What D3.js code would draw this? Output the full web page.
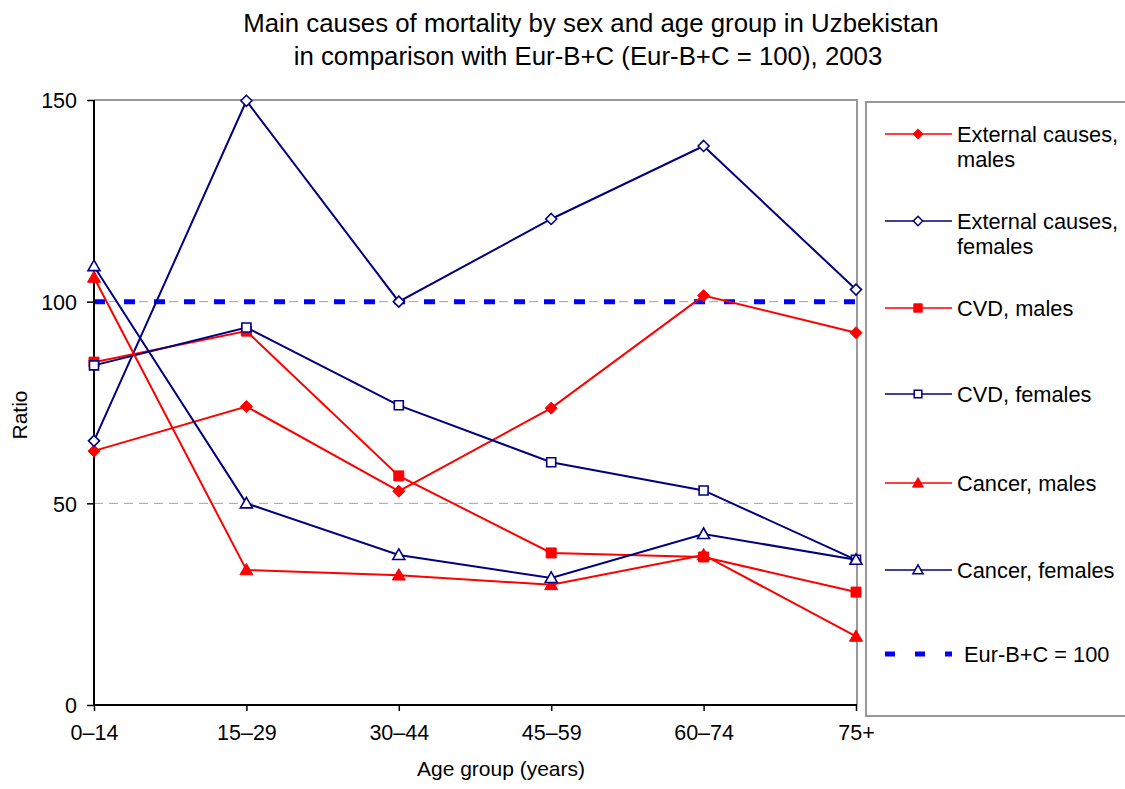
<!DOCTYPE html>
<html>
<head>
<meta charset="utf-8">
<script src="https://cdn.jsdelivr.net/npm/d3@7"></script>
<style>
  body { margin: 0; background: #fff; }
  svg { font-family: "Liberation Sans", Arial, sans-serif; }
</style>
</head>
<body>
<svg id="chart" width="1125" height="789"></svg>
<script>
// data
const ageGroups = ["0–14", "15–29", "30–44", "45–59", "60–74", "75+"];
const externalMales   = [63, 74, 53, 73.6, 101.5, 92.3];
const externalFemales = [65.5, 149.8, 100, 120.5, 138.6, 103];
const cvdMales        = [85, 92.7, 56.8, 37.7, 36.7, 28];
const cvdFemales      = [84.2, 93.6, 74.3, 60.2, 53.2, 36];
const cancerMales     = [106, 33.5, 32.2, 29.8, 37.2, 17];
const cancerFemales   = [108.8, 50, 37.2, 31.5, 42.4, 36];
const referenceValue  = 100;
const yTicks = [0, 50, 100, 150];

const series = [
  { name: ["External causes,", "males"],   values: externalMales,   color: "#ff0000", shape: "diamond",  filled: true },
  { name: ["External causes,", "females"], values: externalFemales, color: "#000080", shape: "diamond",  filled: false },
  { name: ["CVD, males"],                  values: cvdMales,        color: "#ff0000", shape: "square",   filled: true },
  { name: ["CVD, females"],                values: cvdFemales,      color: "#000080", shape: "square",   filled: false },
  { name: ["Cancer, males"],               values: cancerMales,     color: "#ff0000", shape: "triangle", filled: true },
  { name: ["Cancer, females"],             values: cancerFemales,   color: "#000080", shape: "triangle", filled: false }
];

const svg = d3.select("#chart");
const plot = { left: 94, right: 856, top: 100, bottom: 705 };

const x = d3.scalePoint().domain(ageGroups).range([plot.left, plot.right]).padding(0);
const y = d3.scaleLinear().domain([0, 150]).range([plot.bottom, plot.top]);

// marker paths centred on 0,0
function markerPath(shape, filled) {
  if (shape === "diamond") {
    const r = filled ? 6 : 5.5;
    return `M0,${-r}L${r},0L0,${r}L${-r},0Z`;
  }
  if (shape === "square") {
    const r = filled ? 5 : 4.5;
    return `M${-r},${-r}H${r}V${r}H${-r}Z`;
  }
  // triangle
  const r = filled ? 6.5 : 6;
  return `M0,${-r}L${r},${r * 0.75}L${-r},${r * 0.75}Z`;
}

// title
svg.append("text")
  .attr("x", 591).attr("y", 32)
  .attr("text-anchor", "middle")
  .style("font-size", "25.8px")
  .text("Main causes of mortality by sex and age group in Uzbekistan");
svg.append("text")
  .attr("x", 588).attr("y", 65)
  .attr("text-anchor", "middle")
  .style("font-size", "25.8px")
  .text("in comparison with Eur-B+C (Eur-B+C = 100), 2003");

// plot border (top and right)
svg.append("path")
  .attr("d", `M${plot.left},${plot.top}H${plot.right + 1}V${plot.bottom}`)
  .attr("fill", "none")
  .attr("stroke", "#999")
  .attr("stroke-width", 2);

// gridlines
svg.append("g").selectAll("line")
  .data([50, 100])
  .join("line")
  .attr("x1", plot.left).attr("x2", plot.right)
  .attr("y1", d => y(d)).attr("y2", d => y(d))
  .attr("stroke", "#a0a0a0")
  .attr("stroke-width", 1)
  .attr("stroke-dasharray", "9,6");

// reference line
svg.append("line")
  .attr("x1", plot.left).attr("x2", plot.right)
  .attr("y1", y(referenceValue)).attr("y2", y(referenceValue))
  .attr("stroke", "#0000ff")
  .attr("stroke-width", 5)
  .attr("stroke-dasharray", "11,19");

// axes
const yAxis = svg.append("g")
  .attr("transform", `translate(${plot.left},0)`)
  .call(d3.axisLeft(y).tickValues(yTicks).tickSize(7).tickPadding(10).tickFormat(d3.format("d")));
const xAxis = svg.append("g")
  .attr("transform", `translate(0,${plot.bottom})`)
  .call(d3.axisBottom(x).tickSize(6).tickPadding(14));

[yAxis, xAxis].forEach(a => {
  a.select(".domain").attr("stroke", "#000").attr("stroke-width", 2);
  a.selectAll(".tick line").attr("stroke", "#000").attr("stroke-width", 1.5);
  a.selectAll(".tick text").attr("fill", "#000")
    .attr("font-size", null).attr("font-family", null)
    .style("font-size", "21.5px")
    .style("font-family", "'Liberation Sans', Arial, sans-serif");
});
yAxis.attr("font-size", null).attr("font-family", null);
xAxis.attr("font-size", null).attr("font-family", null);
xAxis.select(".domain").attr("d", `M${plot.left},0H${plot.right + 1}`);
yAxis.select(".domain").attr("d", `M0,${plot.bottom}V${plot.top}`);
yAxis.selectAll(".tick text").attr("dy", "0.36em");
xAxis.selectAll(".tick text").attr("dy", "0.71em");

// axis titles
svg.append("text")
  .attr("x", 501).attr("y", 776)
  .attr("text-anchor", "middle")
  .style("font-size", "21px")
  .text("Age group (years)");
svg.append("text")
  .attr("transform", "translate(27,415) rotate(-90)")
  .attr("text-anchor", "middle")
  .style("font-size", "21px")
  .text("Ratio");

// series lines and markers
const line = d3.line().x((d, i) => x(ageGroups[i])).y(d => y(d));

const groups = svg.append("g").selectAll("g")
  .data(series)
  .join("g");

groups.append("path")
  .attr("d", d => line(d.values))
  .attr("fill", "none")
  .attr("stroke", d => d.color)
  .attr("stroke-width", 2);

groups.each(function (s) {
  d3.select(this).selectAll(".marker")
    .data(s.values)
    .join("path")
    .attr("class", "marker")
    .attr("transform", (d, i) => `translate(${x(ageGroups[i])},${y(d)})`)
    .attr("d", markerPath(s.shape, s.filled))
    .attr("fill", s.filled ? s.color : "#fff")
    .attr("stroke", s.color)
    .attr("stroke-width", s.filled ? 1 : 1.6);
});

// legend
const legend = svg.append("g");
legend.append("rect")
  .attr("x", 866).attr("y", 102)
  .attr("width", 280).attr("height", 614)
  .attr("fill", "#fff")
  .attr("stroke", "#999")
  .attr("stroke-width", 2);

const legendY = [134, 221, 308, 394, 483, 570];
const items = legend.selectAll(".item")
  .data(series)
  .join("g")
  .attr("class", "item")
  .attr("transform", (d, i) => `translate(0,${legendY[i]})`);

items.append("line")
  .attr("x1", 885).attr("x2", 952)
  .attr("stroke", d => d.color)
  .attr("stroke-width", 1.5);
items.append("path")
  .attr("transform", "translate(918,0) scale(0.85)")
  .attr("d", d => markerPath(d.shape, d.filled))
  .attr("fill", d => d.filled ? d.color : "#fff")
  .attr("stroke", d => d.color)
  .attr("stroke-width", d => d.filled ? 1 : 1.8);
items.append("text")
  .attr("x", 957)
  .attr("y", 8)
  .style("font-size", "21.8px")
  .selectAll("tspan")
  .data(d => d.name)
  .join("tspan")
  .attr("x", 957)
  .attr("dy", (d, i) => i === 0 ? 0 : 25)
  .text(d => d);

const refItem = legend.append("g").attr("transform", "translate(0,654)");
refItem.append("line")
  .attr("x1", 885).attr("x2", 952)
  .attr("stroke", "#0000ff")
  .attr("stroke-width", 5)
  .attr("stroke-dasharray", "10,20");
refItem.append("text")
  .attr("x", 964).attr("y", 8)
  .style("font-size", "21.8px")
  .text("Eur-B+C = 100");
</script>
</body>
</html>
